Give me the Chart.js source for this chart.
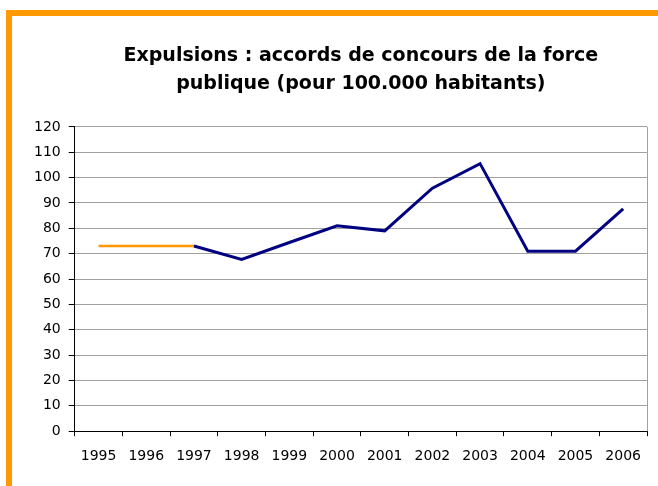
<!DOCTYPE html>
<html>
<head>
<meta charset="utf-8">
<script src="https://cdn.jsdelivr.net/npm/chart.js@4/dist/chart.umd.min.js"></script>
<style>
	body { margin: 0; background: #fff; }
	#frame {
		position: absolute; left: 6px; top: 10px;
		width: 646px; height: 470px;
		border-top: 6px solid #ff9900;
		border-left: 6px solid #ff9900;
	}
</style>
</head>
<body>
<div id="frame"><canvas id="canvas"></canvas></div>
<script>
var years = ['1995', '1996', '1997', '1998', '1999', '2000', '2001', '2002', '2003', '2004', '2005', '2006'];
var estimated = [73, 73, 73, null, null, null, null, null, null, null, null, null];
var accords = [null, null, 73, 67.7, 74.4, 81, 79, 95.8, 105.5, 71, 71, 87.7];
var yTicks = [0, 10, 20, 30, 40, 50, 60, 70, 80, 90, 100, 110, 120];

var FONT = "'DejaVu Sans', Arial, sans-serif";

// right-hand frame line of the plot area
var rightBorder = {
	id: 'rightBorder',
	afterDatasetsDraw: function(chart) {
		var a = chart.chartArea, ctx = chart.ctx;
		ctx.save();
		ctx.strokeStyle = '#a0a0a0';
		ctx.lineWidth = 1;
		ctx.beginPath();
		ctx.moveTo(Math.round(a.right) + 0.5, a.top);
		ctx.lineTo(Math.round(a.right) + 0.5, a.bottom);
		ctx.stroke();
		ctx.restore();
	}
};

function getChart() {
	var ctx = document.getElementById("canvas").getContext("2d");

	var config = {
		type : 'line',
		data : {
			labels : years,
			datasets : [{
				data : estimated,
				borderColor : '#ff9900',
				borderWidth : 2.5,
				pointRadius : 0,
				tension : 0
			}, {
				data : accords,
				borderColor : '#000080',
				borderWidth : 3,
				pointRadius : 0,
				tension : 0
			}]
		},
		options : {
			responsive : true,
			maintainAspectRatio : false,
			animation : false,
			events : [],
			layout : {
				padding : { left : 14, right : 11, top : 0, bottom : 9 }
			},
			plugins : {
				legend : { display : false },
				tooltip : { enabled : false },
				title : {
					display : true,
					fullSize : false,
					text : ['Expulsions : accords de concours de la force', 'publique (pour 100.000 habitants)'],
					color : '#000',
					font : { family : FONT, size : 19, weight : 'bold', lineHeight : 1.47 },
					padding : { top : 26, bottom : 29 }
				}
			},
			scales : {
				x : {
					offset : true,
					grid : {
						offset : true,
						drawOnChartArea : false,
						tickLength : 5,
						tickColor : '#000'
					},
					border : { color : '#000', width : 1 },
					ticks : {
						color : '#000',
						padding : 12,
						maxRotation : 0,
						autoSkip : false,
						font : { family : FONT, size : 14 }
					}
				},
				y : {
					min : 0,
					max : 120,
					afterBuildTicks : function(axis) {
						axis.ticks = yTicks.map(function(v) { return { value : v }; });
					},
					grid : {
						color : '#a0a0a0',
						tickLength : 6,
						tickColor : '#000'
					},
					border : { color : '#000', width : 1 },
					ticks : {
						color : '#000',
						padding : 8,
						font : { family : FONT, size : 14 }
					}
				}
			}
		},
		plugins : [rightBorder]
	};
	window.myLine = new Chart(ctx, config);
}
getChart();
</script>
</body>
</html>
